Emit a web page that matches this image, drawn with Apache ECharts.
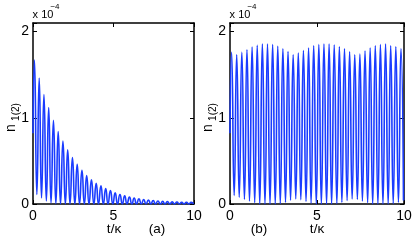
<!DOCTYPE html>
<html>
<head>
<meta charset="utf-8">
<script src="https://cdn.jsdelivr.net/npm/echarts@6/dist/echarts.min.js"></script>
<style>
  html, body { margin: 0; padding: 0; background: #fff; }
  #chart { width: 415px; height: 244px; }
</style>
</head>
<body>
<div id="chart"></div>
<script>
// times of the maxima / minima (t/kappa)
const tPeak = [0.09, 0.385, 0.68, 0.975, 1.27, 1.565, 1.86, 2.155, 2.45, 2.745, 3.04, 3.335,
  3.63, 3.925, 4.22, 4.515, 4.81, 5.105, 5.40, 5.695, 5.99, 6.285, 6.58, 6.875,
  7.17, 7.465, 7.76, 8.055, 8.35, 8.645, 8.94, 9.235, 9.53, 9.825]
const tTrough = [0.24, 0.53, 0.83, 1.12, 1.42, 1.71, 2.01, 2.30, 2.60, 2.89, 3.19, 3.48,
  3.78, 4.07, 4.37, 4.66, 4.96, 5.25, 5.55, 5.84, 6.14, 6.43, 6.73, 7.02,
  7.32, 7.61, 7.91, 8.20, 8.50, 8.79, 9.09, 9.38, 9.68, 9.97]

// values in units of 1e-4
const startA = 0.82
const peakA = [1.67, 1.46, 1.27, 1.12, 0.97, 0.84, 0.73, 0.63, 0.54, 0.46, 0.39, 0.33,
  0.28, 0.24, 0.21, 0.18, 0.155, 0.13, 0.11, 0.095, 0.08, 0.07, 0.06, 0.052,
  0.045, 0.04, 0.035, 0.031, 0.028, 0.025, 0.023, 0.021, 0.02, 0.019]
const troughA = [0.11, 0.07, 0.035, 0.012, 0.003, 0, 0, 0, 0, 0, 0, 0,
  0, 0, 0, 0, 0, 0, 0, 0, 0, 0, 0, 0,
  0, 0, 0, 0, 0, 0, 0, 0, 0, 0]

const startB = 0.82
const peakB = [1.76, 1.73, 1.76, 1.79, 1.82, 1.84, 1.855, 1.855, 1.85, 1.83, 1.80, 1.77,
  1.73, 1.75, 1.78, 1.81, 1.835, 1.85, 1.855, 1.855, 1.845, 1.825, 1.80, 1.765,
  1.73, 1.74, 1.775, 1.81, 1.835, 1.85, 1.855, 1.835, 1.825, 1.80]
const troughB = [0.1, 0.08, 0.055, 0.035, 0.015, 0, 0, 0, 0, 0.005, 0.02, 0.045,
  0.06, 0.05, 0.03, 0.01, 0, 0, 0, 0, 0.005, 0.02, 0.04, 0.06,
  0.055, 0.035, 0.015, 0, 0, 0, 0, 0.005, 0.02, 0.04]

const xTicks = [0, 10, 5]   // min, max, interval
const yTicks = [0, 2.1, 1]

function build(start, peaks, troughs) {
  const pts = [[0, start]]
  peaks.forEach((p, i) => {
    pts.push([tPeak[i], p])
    pts.push([tTrough[i], troughs[i]])
  })
  return pts
}

const FONT = '"Liberation Sans", Arial, Helvetica, sans-serif'
const BLUE = '#1a3cff'

const grids = [
  { left: 33, top: 23, width: 161, height: 181 },
  { left: 230, top: 23, width: 174, height: 181 }
]

function xAxis(gi, top) {
  return {
    type: 'value', gridIndex: gi, position: top ? 'top' : 'bottom',
    min: xTicks[0], max: xTicks[1], interval: xTicks[2],
    axisLine: { onZero: false, lineStyle: { color: '#000', width: 1.5 } },
    axisTick: { inside: true, length: 4, lineStyle: { color: '#000', width: 1 } },
    axisLabel: { show: !top, color: '#000', fontSize: 14, fontFamily: FONT, margin: 5 },
    splitLine: { show: false }
  }
}
function yAxis(gi, right) {
  return {
    type: 'value', gridIndex: gi, position: right ? 'right' : 'left',
    min: yTicks[0], max: yTicks[1], interval: yTicks[2],
    axisLine: { onZero: false, lineStyle: { color: '#000', width: 1.5 } },
    axisTick: { inside: true, length: 4, lineStyle: { color: '#000', width: 1 } },
    axisLabel: {
      show: !right, color: '#000', fontSize: 14, fontFamily: FONT, margin: 4,
      formatter: v => Number.isInteger(v) ? String(v) : ''
    },
    splitLine: { show: false }
  }
}

function txt(x, y, text, size, rot) {
  return {
    type: 'text', x: x, y: y, rotation: rot || 0,
    style: { text: text, fontSize: size, fontFamily: FONT, fill: '#000', align: 'center', verticalAlign: 'middle' }
  }
}

const labels = []
;[33, 230].forEach(x0 => {
  labels.push(txt(x0 + 10, 15, 'x 10', 11))
  labels.push(txt(x0 + 22, 7, '\u22124', 8))
})
labels.push(txt(11.5, 128, 'n', 14, Math.PI / 2))
labels.push(txt(16, 112, '1(2)', 10, Math.PI / 2))
labels.push(txt(208.5, 128, 'n', 14, Math.PI / 2))
labels.push(txt(213, 112, '1(2)', 10, Math.PI / 2))
labels.push(txt(114, 229, 't/\u03ba', 13.5))
labels.push(txt(157, 229, '(a)', 13.5))
labels.push(txt(259, 229, '(b)', 13.5))
labels.push(txt(317, 229, 't/\u03ba', 13.5))

const chart = echarts.init(document.getElementById('chart'), null, { renderer: 'canvas' })
chart.setOption({
  animation: false,
  backgroundColor: '#fff',
  grid: grids,
  xAxis: [xAxis(0, false), xAxis(0, true), xAxis(1, false), xAxis(1, true)],
  yAxis: [yAxis(0, false), yAxis(0, true), yAxis(1, false), yAxis(1, true)],
  series: [
    {
      type: 'line', xAxisIndex: 0, yAxisIndex: 0, data: build(startA, peakA, troughA),
      smooth: 0.6, showSymbol: false, lineStyle: { color: BLUE, width: 1.6 }, clip: true
    },
    {
      type: 'line', xAxisIndex: 2, yAxisIndex: 2, data: build(startB, peakB, troughB),
      smooth: 0.6, showSymbol: false, lineStyle: { color: BLUE, width: 1.6 }, clip: true
    }
  ],
  graphic: labels
})
</script>
</body>
</html>
